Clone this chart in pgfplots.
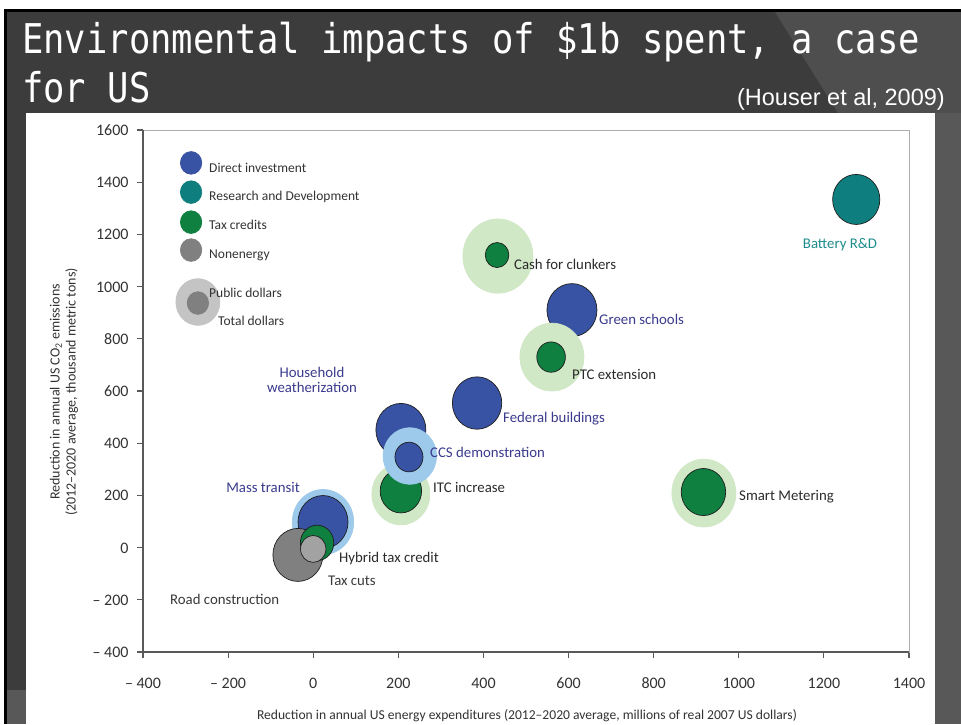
\documentclass[border=0pt]{standalone}
\usepackage{pgfplots}
\pgfplotsset{compat=1.18}
\usepackage{pgfplotstable}
\usepackage{graphicx}
\usepackage{fontspec}
\setmainfont[Numbers=Lining]{Carlito}
\newfontfamily\titlefont{DejaVu Sans Mono}
\newfontfamily\arialfont{Liberation Sans}

\definecolor{bgdark}{HTML}{3C3C3C}
\definecolor{bglight}{HTML}{4E4E4E}
\definecolor{bgright}{HTML}{585858}
\definecolor{diblue}{HTML}{3953A4}
\definecolor{rdteal}{HTML}{0E7F7E}
\definecolor{txgreen}{HTML}{0F8040}
\definecolor{negray}{HTML}{808080}
\definecolor{ltblue}{HTML}{9DC9EA}
\definecolor{ltgreen}{HTML}{D0E8C6}
\definecolor{ltgray}{HTML}{C4C4C4}
\definecolor{taxcutgray}{HTML}{A2A2A2}
\definecolor{outl}{HTML}{1E1E1E}
\definecolor{dilabel}{HTML}{3B3B8E}
\definecolor{txlabel}{HTML}{2B2B2B}
\definecolor{nelabel}{HTML}{3A3A3A}
\definecolor{rdlabel}{HTML}{1F8C8C}
\definecolor{axtext}{HTML}{333333}

% Bubbles: x = reduction in energy expenditures, y = reduction in CO2, r = radius (px)
\pgfplotstableread{
x y r
206 451 25
385 554 24.7
608 910 25
}\dibig
\pgfplotstableread{
x y r
1276 1334 23.6
}\rdbub
\pgfplotstableread{
x y r
206 205 29
434 1117 35
561 730 32
918 209 32
}\taxhalo
\pgfplotstableread{
x y r
206 217 20.7
432 1121 11.8
559 730 14.3
917 213 22.2
}\taxinner
\pgfplotstableread{
x y r
227 351 26.7
23 98 30.7
}\dihalo
\pgfplotstableread{
x y r
225 347 14
23 98 25
}\diinner
\pgfplotstableread{
x y r
-36 -28 25
}\roadc
\pgfplotstableread{
x y r
9 18 16.7
}\hybrid
\pgfplotstableread{
x y r
0 -5 12.7
}\taxcuts
% legend symbols
\pgfplotstableread{
x y r
-287 1474 10.7
}\legdi
\pgfplotstableread{
x y r
-287 1362 10.7
}\legrd
\pgfplotstableread{
x y r
-287 1247 10.7
}\legtx
\pgfplotstableread{
x y r
-287 1140 10.7
}\legne
\pgfplotstableread{
x y r
-271 941 22
}\legpub
\pgfplotstableread{
x y r
-271 937 10.7
}\legtot

\pgfplotsset{
  bubble/.style 2 args={scatter, only marks, mark=*,
    scatter/use mapped color={draw=#2, fill=#1},
    visualization depends on={\thisrow{r}\as\rad},
    scatter/@pre marker code/.append style={/tikz/mark size=\rad, /tikz/yscale=1.06},
    mark options={line width=0.7pt}},
}

\begin{document}
\begin{tikzpicture}[x=1pt,y=1pt]
% slide background
\fill[white] (0,0) rectangle (961,-724);
\fill[black] (4,-9) rectangle (961,-724);
\fill[bgdark] (7,-12) rectangle (961,-724);
\fill[bglight] (775,-12) -- (961,-12) -- (961,-113) -- (838,-113) -- cycle;
\fill[bgright] (935,-113) rectangle (961,-724);
\fill[bgright] (7,-690) rectangle (26,-724);
% white panel
\fill[white] (26,-113) rectangle (935,-724);

% title
\node[anchor=base west, inner sep=0, text=white] at (22,-53)
  {\scalebox{0.866}[1]{\titlefont\fontsize{41}{41}\selectfont Environmental impacts of \$1b spent, a case}};
\node[anchor=base west, inner sep=0, text=white] at (22,-102)
  {\scalebox{0.866}[1]{\titlefont\fontsize{41}{41}\selectfont for US}};
\node[anchor=base east, inner sep=0, text=white] at (945,-105)
  {\arialfont\fontsize{23.5}{23.5}\selectfont (Houser et al, 2009)};

\begin{axis}[
  at={(143pt,-652pt)}, anchor=south west,
  width=766pt, height=522pt, scale only axis,
  xmin=-400, xmax=1400, ymin=-400, ymax=1600,
  xtick={-400,-200,0,200,400,600,800,1000,1200,1400},
  ytick={-400,-200,0,200,400,600,800,1000,1200,1400,1600},
  xticklabels={–\ 400,–\ 200,0,200,400,600,800,1000,1200,1400},
  yticklabels={–\ 400,–\ 200,0,200,400,600,800,1000,1200,1400,1600},
  tick pos=left, tick align=outside,
  major tick length=6pt,
  every tick/.style={draw=black!65, line width=1.2pt},
  axis line style={draw=black!32, line width=0.8pt},
  ticklabel style={font=\fontsize{16}{16}\selectfont, text=axtext, text height=11pt, text depth=0pt},
  xticklabel style={yshift=-16pt},
  yticklabel style={xshift=-5pt},
  clip=false,
  after end axis/.code={
    \draw[black!65, line width=1.4pt] (rel axis cs:0,1) -- (rel axis cs:0,0) -- (rel axis cs:1,0);
  },
]
\addplot[bubble={diblue}{outl}] table {\dibig};
\addplot[bubble={rdteal}{outl}] table {\rdbub};
\addplot[bubble={ltgreen}{ltgreen}] table {\taxhalo};
\addplot[bubble={txgreen}{outl}] table {\taxinner};
\addplot[bubble={ltblue}{ltblue}] table {\dihalo};
\addplot[bubble={diblue}{outl}] table {\diinner};
\addplot[bubble={negray}{outl}] table {\roadc};
\addplot[bubble={txgreen}{outl}] table {\hybrid};
\addplot[bubble={taxcutgray}{outl}] table {\taxcuts};
% legend symbols
\addplot[bubble={diblue}{diblue}] table {\legdi};
\addplot[bubble={rdteal}{rdteal}] table {\legrd};
\addplot[bubble={txgreen}{txgreen}] table {\legtx};
\addplot[bubble={negray}{negray}] table {\legne};
\addplot[bubble={ltgray}{ltgray}] table {\legpub};
\addplot[bubble={negray}{negray}] table {\legtot};
\end{axis}

% legend text
\begin{scope}[every node/.style={anchor=base west, inner sep=0, text=axtext, font=\fontsize{13.5}{13.5}\selectfont}]
\node at (209,-172) {Direct investment};
\node at (209,-200) {Research and Development};
\node at (209,-229) {Tax credits};
\node at (209,-258) {Nonenergy};
\node at (209,-297) {Public dollars};
\node at (218,-325) {Total dollars};
\end{scope}

% bubble labels
\begin{scope}[every node/.style={anchor=base west, inner sep=0, font=\fontsize{14.8}{14.8}\selectfont}]
\node[text=txlabel] at (514,-269) {Cash for clunkers};
\node[text=dilabel] at (599,-324) {Green schools};
\node[text=txlabel] at (572,-379) {PTC extension};
\node[text=rdlabel, anchor=base] at (840,-248) {Battery R\&D};
\node[text=dilabel] at (503,-422) {Federal buildings};
\node[text=dilabel] at (430,-457) {CCS demonstration};
\node[text=txlabel] at (433,-492) {ITC increase};
\node[text=txlabel] at (739,-500) {Smart Metering};
\node[text=dilabel, anchor=base] at (312,-377) {Household};
\node[text=dilabel, anchor=base] at (312,-392) {weatherization};
\node[text=dilabel, anchor=base] at (263,-492) {Mass transit};
\node[text=txlabel] at (339,-562) {Hybrid tax credit};
\node[text=nelabel] at (328,-585) {Tax cuts};
\node[text=nelabel] at (170,-604) {Road construction};
\end{scope}

% axis titles
\node[rotate=90, align=center, text=axtext, font=\fontsize{14}{16}\selectfont] at (64,-392)
  {Reduction in annual US CO\textsubscript{2} emissions\\(2012–2020 average, thousand metric tons)};
\node[text=axtext, font=\fontsize{13.6}{15}\selectfont] at (527,-716)
  {Reduction in annual US energy expenditures (2012–2020 average, millions of real 2007 US dollars)};

\pgfresetboundingbox
\useasboundingbox (0,0) rectangle (961,-724);
\end{tikzpicture}
\end{document}
